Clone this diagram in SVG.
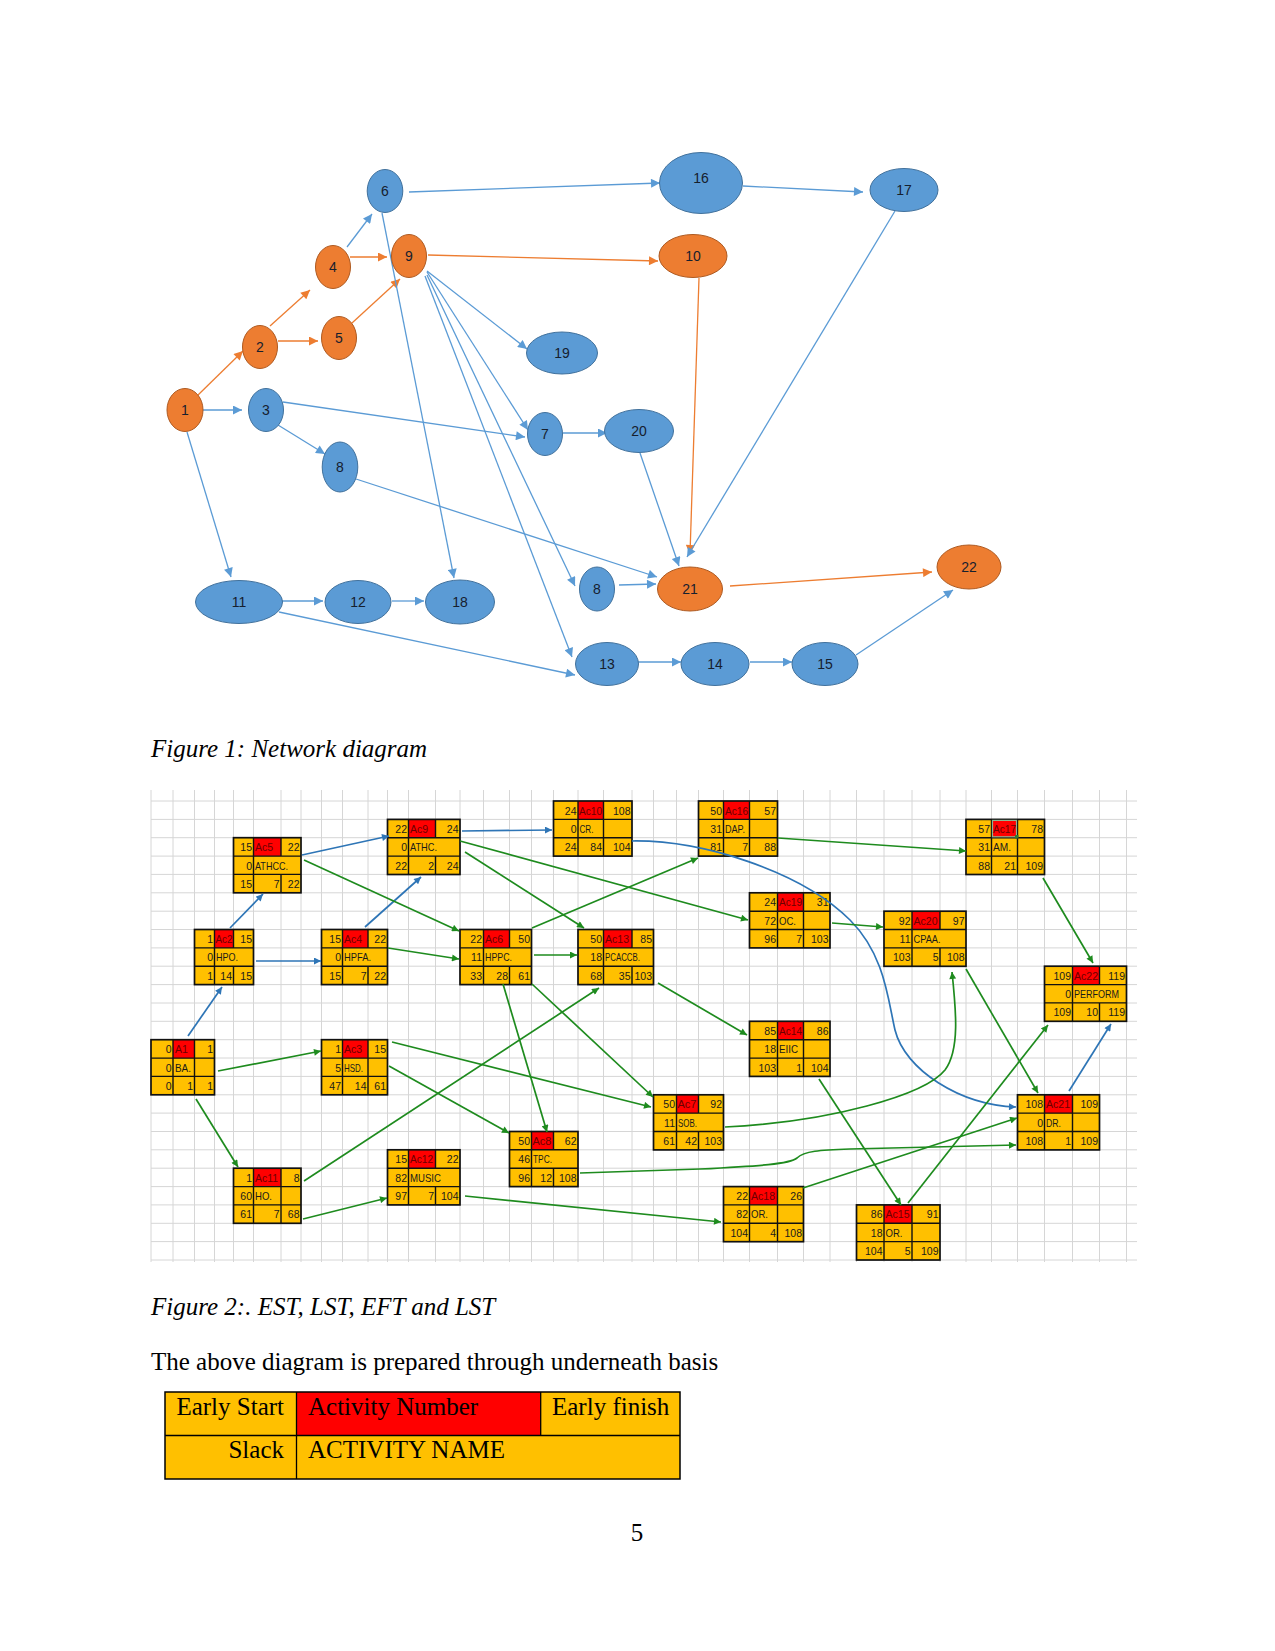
<svg xmlns="http://www.w3.org/2000/svg" width="1275" height="1651" viewBox="0 0 1275 1651">
<style>
.cap{font-family:"Liberation Serif","Times New Roman",serif;font-size:25px;fill:#000}
.it{font-style:italic}
.nb{fill:#5B9BD5;stroke:#41719C;stroke-width:1}
.no{fill:#ED7D31;stroke:#AE5A21;stroke-width:1}
.nl{font-family:"Liberation Sans",Arial,sans-serif;font-size:14px;fill:#16202e;text-anchor:middle}
.eb{stroke:#5B9BD5;stroke-width:1.3;fill:none}
.eo{stroke:#ED7D31;stroke-width:1.3;fill:none}
.grid{stroke:#D6D6D6;stroke-width:1;fill:none}
.cell{fill:#FFC000}
.red{fill:#FF0000}
.bl{stroke:#111;stroke-width:1.4;fill:none}
.fr{fill:none;stroke:#111;stroke-width:1.7}
.bx text{font-family:"Liberation Sans",Arial,sans-serif;font-size:10.5px;fill:#1a1a1a}
.bx .e{text-anchor:end}
.bx .ac{fill:#6b0000}
.cb{stroke:#2E75B6;stroke-width:1.7;fill:none}
.cg{stroke:#1E8B1E;stroke-width:1.7;fill:none}
</style>
<defs>
<marker id="mb" viewBox="0 0 10 10" refX="10" refY="5" markerWidth="11" markerHeight="9" markerUnits="userSpaceOnUse" orient="auto"><path d="M0,0L10,5L0,10z" fill="#5B9BD5"/></marker>
<marker id="mo" viewBox="0 0 10 10" refX="10" refY="5" markerWidth="11" markerHeight="9" markerUnits="userSpaceOnUse" orient="auto"><path d="M0,0L10,5L0,10z" fill="#ED7D31"/></marker>
<marker id="fb" viewBox="0 0 10 10" refX="10" refY="5" markerWidth="8" markerHeight="7" markerUnits="userSpaceOnUse" orient="auto"><path d="M0,0L10,5L0,10z" fill="#2E75B6"/></marker>
<marker id="fg" viewBox="0 0 10 10" refX="10" refY="5" markerWidth="8" markerHeight="7" markerUnits="userSpaceOnUse" orient="auto"><path d="M0,0L10,5L0,10z" fill="#1E8B1E"/></marker>
</defs>
<rect x="0" y="0" width="1275" height="1651" fill="#fff"/>

<!-- Figure 1 connectors -->
<g id="fig1-connectors">
<line class="eo" x1="197" y1="396" x2="243" y2="351" marker-end="url(#mo)"/>
<line class="eo" x1="270" y1="326" x2="310" y2="290" marker-end="url(#mo)"/>
<line class="eo" x1="278" y1="341" x2="318" y2="341" marker-end="url(#mo)"/>
<line class="eo" x1="350" y1="257" x2="387" y2="257" marker-end="url(#mo)"/>
<line class="eo" x1="352" y1="323" x2="400" y2="279" marker-end="url(#mo)"/>
<line class="eo" x1="428" y1="255" x2="658" y2="261" marker-end="url(#mo)"/>
<line class="eo" x1="699" y1="278" x2="690" y2="554" marker-end="url(#mo)"/>
<line class="eo" x1="730" y1="586" x2="932" y2="572" marker-end="url(#mo)"/>
<line class="eb" x1="202" y1="410" x2="242" y2="410" marker-end="url(#mb)"/>
<line class="eb" x1="347" y1="247" x2="372" y2="214" marker-end="url(#mb)"/>
<line class="eb" x1="409" y1="192" x2="660" y2="183" marker-end="url(#mb)"/>
<line class="eb" x1="743" y1="186" x2="863" y2="192" marker-end="url(#mb)"/>
<line class="eb" x1="427" y1="271" x2="527" y2="349" marker-end="url(#mb)"/>
<line class="eb" x1="427" y1="272" x2="528" y2="430" marker-end="url(#mb)"/>
<line class="eb" x1="283" y1="402" x2="525" y2="437" marker-end="url(#mb)"/>
<line class="eb" x1="278" y1="425" x2="325" y2="454" marker-end="url(#mb)"/>
<line class="eb" x1="563" y1="433" x2="607" y2="433" marker-end="url(#mb)"/>
<line class="eb" x1="382" y1="213" x2="454" y2="578" marker-end="url(#mb)"/>
<line class="eb" x1="427" y1="275" x2="575" y2="586" marker-end="url(#mb)"/>
<line class="eb" x1="425" y1="276" x2="572" y2="657" marker-end="url(#mb)"/>
<line class="eb" x1="640" y1="453" x2="679" y2="566" marker-end="url(#mb)"/>
<line class="eb" x1="895" y1="211" x2="687" y2="557" marker-end="url(#mb)"/>
<line class="eb" x1="356" y1="479" x2="657" y2="577" marker-end="url(#mb)"/>
<line class="eb" x1="619" y1="585" x2="656" y2="584" marker-end="url(#mb)"/>
<line class="eb" x1="187" y1="432" x2="231" y2="577" marker-end="url(#mb)"/>
<line class="eb" x1="282" y1="601" x2="323" y2="601" marker-end="url(#mb)"/>
<line class="eb" x1="392" y1="601" x2="424" y2="601" marker-end="url(#mb)"/>
<line class="eb" x1="279" y1="612" x2="575" y2="675" marker-end="url(#mb)"/>
<line class="eb" x1="638" y1="662" x2="681" y2="662" marker-end="url(#mb)"/>
<line class="eb" x1="750" y1="662" x2="792" y2="662" marker-end="url(#mb)"/>
<line class="eb" x1="856" y1="655" x2="953" y2="590" marker-end="url(#mb)"/>
</g>

<!-- Figure 1 nodes -->
<g id="n1"><ellipse class="no" cx="185" cy="410" rx="18" ry="21.5"/><text class="nl" x="185" y="415">1</text></g>
<g id="n2"><ellipse class="no" cx="260" cy="347" rx="17.5" ry="21.5"/><text class="nl" x="260" y="352">2</text></g>
<g id="n3"><ellipse class="nb" cx="266" cy="410" rx="17.5" ry="21.5"/><text class="nl" x="266" y="415">3</text></g>
<g id="n4"><ellipse class="no" cx="333" cy="267" rx="17.5" ry="21.5"/><text class="nl" x="333" y="272">4</text></g>
<g id="n5"><ellipse class="no" cx="339" cy="338" rx="17.5" ry="21.5"/><text class="nl" x="339" y="343">5</text></g>
<g id="n6"><ellipse class="nb" cx="385" cy="191" rx="17.8" ry="21.5"/><text class="nl" x="385" y="196">6</text></g>
<g id="n9"><ellipse class="no" cx="409" cy="256" rx="17.5" ry="21.5"/><text class="nl" x="409" y="261">9</text></g>
<g id="n8a"><ellipse class="nb" cx="340" cy="467" rx="17.8" ry="25"/><text class="nl" x="340" y="472">8</text></g>
<g id="n19"><ellipse class="nb" cx="562" cy="353" rx="35.5" ry="21"/><text class="nl" x="562" y="358">19</text></g>
<g id="n7"><ellipse class="nb" cx="545" cy="434" rx="17.5" ry="21.5"/><text class="nl" x="545" y="439">7</text></g>
<g id="n20"><ellipse class="nb" cx="639" cy="431" rx="34.5" ry="21.5"/><text class="nl" x="639" y="436">20</text></g>
<g id="n16"><ellipse class="nb" cx="701" cy="183" rx="41.5" ry="30.5"/><text class="nl" x="701" y="183">16</text></g>
<g id="n17"><ellipse class="nb" cx="904" cy="190" rx="34" ry="21.5"/><text class="nl" x="904" y="195">17</text></g>
<g id="n10"><ellipse class="no" cx="693" cy="256" rx="34" ry="21.5"/><text class="nl" x="693" y="261">10</text></g>
<g id="n11"><ellipse class="nb" cx="239" cy="602" rx="43.5" ry="21.5"/><text class="nl" x="239" y="607">11</text></g>
<g id="n12"><ellipse class="nb" cx="358" cy="602" rx="33" ry="21.5"/><text class="nl" x="358" y="607">12</text></g>
<g id="n18"><ellipse class="nb" cx="460" cy="602" rx="34.5" ry="22"/><text class="nl" x="460" y="607">18</text></g>
<g id="n8b"><ellipse class="nb" cx="597" cy="589" rx="17.5" ry="22"/><text class="nl" x="597" y="594">8</text></g>
<g id="n21"><ellipse class="no" cx="690" cy="589" rx="32.5" ry="22"/><text class="nl" x="690" y="594">21</text></g>
<g id="n22"><ellipse class="no" cx="969" cy="567" rx="32" ry="22"/><text class="nl" x="969" y="572">22</text></g>
<g id="n13"><ellipse class="nb" cx="607" cy="664" rx="31.5" ry="21.5"/><text class="nl" x="607" y="669">13</text></g>
<g id="n14"><ellipse class="nb" cx="715" cy="664" rx="34" ry="21.5"/><text class="nl" x="715" y="669">14</text></g>
<g id="n15"><ellipse class="nb" cx="825" cy="664" rx="33" ry="21.5"/><text class="nl" x="825" y="669">15</text></g>

<text class="cap it" x="151" y="757">Figure 1: Network diagram</text>

<!-- Figure 2 grid -->
<path class="grid" d="M151 790V1262M173 790V1262M194.5 790V1262M214.5 790V1262M233.5 790V1262M253.5 790V1262M281 790V1262M301 790V1262M321.5 790V1262M342.5 790V1262M368 790V1262M387.5 790V1262M408.5 790V1262M435.5 790V1262M460 790V1262M483.5 790V1262M509.5 790V1262M531.5 790V1262M553.5 790V1262M578 790V1262M603.5 790V1262M632 790V1262M653.5 790V1262M676.5 790V1262M698.5 790V1262M723.5 790V1262M749.5 790V1262M777.5 790V1262M803.5 790V1262M830 790V1262M856.5 790V1262M884 790V1262M912 790V1262M940 790V1262M966 790V1262M991.5 790V1262M1017.5 790V1262M1044.5 790V1262M1072.5 790V1262M1099.5 790V1262M1126.5 790V1262
M151 801H1137M151 819.4H1137M151 837.7H1137M151 856.1H1137M151 874.4H1137M151 892.8H1137M151 911.2H1137M151 929.5H1137M151 947.9H1137M151 966.2H1137M151 984.6H1137M151 1003H1137M151 1021.3H1137M151 1039.7H1137M151 1058H1137M151 1076.4H1137M151 1094.8H1137M151 1113.1H1137M151 1131.5H1137M151 1149.8H1137M151 1168.2H1137M151 1186.6H1137M151 1204.9H1137M151 1223.3H1137M151 1241.6H1137M151 1260H1137"/>

<!-- Figure 2 boxes -->
<g id="A1" class="bx">
<rect class="cell" x="151" y="1039.7" width="63.5" height="55.1"/><rect class="red" x="173" y="1039.7" width="21.5" height="18.4"/>
<path class="bl" d="M151 1058.1H214.5M151 1076.4H214.5M173 1039.7V1094.8M194.5 1039.7V1094.8"/>
<rect class="fr" x="151" y="1039.7" width="63.5" height="55.1"/>
<text class="e" x="171.5" y="1053.2">0</text><text class="ac" x="175" y="1053.2">A1</text><text class="e" x="213" y="1053.2">1</text>
<text class="e" x="171.5" y="1071.6">0</text><text x="175" y="1071.6" textLength="16" lengthAdjust="spacingAndGlyphs">BA.</text>
<text class="e" x="171.5" y="1089.9">0</text><text class="e" x="193" y="1089.9">1</text><text class="e" x="213" y="1089.9">1</text>
</g>
<g id="Ac2" class="bx">
<rect class="cell" x="194.5" y="929.5" width="59" height="55.1"/><rect class="red" x="214.5" y="929.5" width="19" height="18.4"/>
<path class="bl" d="M194.5 947.9H253.5M194.5 966.2H253.5M214.5 929.5V984.6M233.5 929.5V947.9M233.5 966.2V984.6"/>
<rect class="fr" x="194.5" y="929.5" width="59" height="55.1"/>
<text class="e" x="213" y="943">1</text><text class="ac" x="215.5" y="943" textLength="17" lengthAdjust="spacingAndGlyphs">Ac2</text><text class="e" x="252" y="943">15</text>
<text class="e" x="213" y="961.4">0</text><text x="216" y="961.4" textLength="22" lengthAdjust="spacingAndGlyphs">HPO.</text>
<text class="e" x="213" y="979.7">1</text><text class="e" x="232" y="979.7">14</text><text class="e" x="252" y="979.7">15</text>
</g>
<g id="Ac3" class="bx">
<rect class="cell" x="321.5" y="1039.7" width="66" height="55.1"/><rect class="red" x="342.5" y="1039.7" width="25.5" height="18.4"/>
<path class="bl" d="M321.5 1058.1H387.5M321.5 1076.4H387.5M342.5 1039.7V1094.8M368 1039.7V1094.8"/>
<rect class="fr" x="321.5" y="1039.7" width="66" height="55.1"/>
<text class="e" x="341" y="1053.2">1</text><text class="ac" x="344" y="1053.2">Ac3</text><text class="e" x="386" y="1053.2">15</text>
<text class="e" x="341" y="1071.6">5</text><text x="344" y="1071.6" textLength="19" lengthAdjust="spacingAndGlyphs">HSD.</text>
<text class="e" x="341" y="1089.9">47</text><text class="e" x="366.5" y="1089.9">14</text><text class="e" x="386" y="1089.9">61</text>
</g>
<g id="Ac4" class="bx">
<rect class="cell" x="321.5" y="929.5" width="66" height="55.1"/><rect class="red" x="342.5" y="929.5" width="25.5" height="18.4"/>
<path class="bl" d="M321.5 947.9H387.5M321.5 966.2H387.5M342.5 929.5V984.6M368 929.5V947.9M368 966.2V984.6"/>
<rect class="fr" x="321.5" y="929.5" width="66" height="55.1"/>
<text class="e" x="341" y="943">15</text><text class="ac" x="344" y="943">Ac4</text><text class="e" x="386" y="943">22</text>
<text class="e" x="341" y="961.4">0</text><text x="344" y="961.4" textLength="27" lengthAdjust="spacingAndGlyphs">HPFA.</text>
<text class="e" x="341" y="979.7">15</text><text class="e" x="366.5" y="979.7">7</text><text class="e" x="386" y="979.7">22</text>
</g>
<g id="Ac5" class="bx">
<rect class="cell" x="233.5" y="837.7" width="67.5" height="55.1"/><rect class="red" x="253.5" y="837.7" width="27.5" height="18.4"/>
<path class="bl" d="M233.5 856.1H301M233.5 874.4H301M253.5 837.7V892.8M281 837.7V856.1M281 874.4V892.8"/>
<rect class="fr" x="233.5" y="837.7" width="67.5" height="55.1"/>
<text class="e" x="252" y="851.2">15</text><text class="ac" x="255" y="851.2">Ac5</text><text class="e" x="299.5" y="851.2">22</text>
<text class="e" x="252" y="869.6">0</text><text x="255" y="869.6" textLength="33" lengthAdjust="spacingAndGlyphs">ATHCC.</text>
<text class="e" x="252" y="887.9">15</text><text class="e" x="279.5" y="887.9">7</text><text class="e" x="299.5" y="887.9">22</text>
</g>
<g id="Ac6" class="bx">
<rect class="cell" x="460" y="929.5" width="71.5" height="55.1"/><rect class="red" x="483.5" y="929.5" width="26" height="18.4"/>
<path class="bl" d="M460 947.9H531.5M460 966.2H531.5M483.5 929.5V984.6M509.5 929.5V947.9M509.5 966.2V984.6"/>
<rect class="fr" x="460" y="929.5" width="71.5" height="55.1"/>
<text class="e" x="482" y="943">22</text><text class="ac" x="485" y="943">Ac6</text><text class="e" x="530" y="943">50</text>
<text class="e" x="482" y="961.4">11</text><text x="485" y="961.4" textLength="27" lengthAdjust="spacingAndGlyphs">HPPC.</text>
<text class="e" x="482" y="979.7">33</text><text class="e" x="508" y="979.7">28</text><text class="e" x="530" y="979.7">61</text>
</g>
<g id="Ac7" class="bx">
<rect class="cell" x="653.5" y="1094.8" width="70" height="55.1"/><rect class="red" x="676.5" y="1094.8" width="22" height="18.4"/>
<path class="bl" d="M653.5 1113.1H723.5M653.5 1131.5H723.5M676.5 1094.8V1149.9M698.5 1094.8V1113.1M698.5 1131.5V1149.9"/>
<rect class="fr" x="653.5" y="1094.8" width="70" height="55.1"/>
<text class="e" x="675" y="1108.3">50</text><text class="ac" x="677.5" y="1108.3" textLength="19" lengthAdjust="spacingAndGlyphs">Ac7</text><text class="e" x="722" y="1108.3">92</text>
<text class="e" x="675" y="1126.6">11</text><text x="678" y="1126.6" textLength="19" lengthAdjust="spacingAndGlyphs">SOB.</text>
<text class="e" x="675" y="1145">61</text><text class="e" x="697" y="1145">42</text><text class="e" x="722" y="1145">103</text>
</g>
<g id="Ac8" class="bx">
<rect class="cell" x="509.5" y="1131.5" width="68.5" height="55.1"/><rect class="red" x="531.5" y="1131.5" width="22" height="18.4"/>
<path class="bl" d="M509.5 1149.8H578M509.5 1168.2H578M531.5 1131.5V1186.6M553.5 1131.5V1149.8M553.5 1168.2V1186.6"/>
<rect class="fr" x="509.5" y="1131.5" width="68.5" height="55.1"/>
<text class="e" x="530" y="1145">50</text><text class="ac" x="532.5" y="1145" textLength="19" lengthAdjust="spacingAndGlyphs">Ac8</text><text class="e" x="576.5" y="1145">62</text>
<text class="e" x="530" y="1163.3">46</text><text x="533" y="1163.3" textLength="19" lengthAdjust="spacingAndGlyphs">TPC.</text>
<text class="e" x="530" y="1181.7">96</text><text class="e" x="552" y="1181.7">12</text><text class="e" x="576.5" y="1181.7">108</text>
</g>
<g id="Ac9" class="bx">
<rect class="cell" x="387.5" y="819.4" width="72.5" height="55.1"/><rect class="red" x="408.5" y="819.4" width="27" height="18.4"/>
<path class="bl" d="M387.5 837.7H460M387.5 856.1H460M408.5 819.4V874.5M435.5 819.4V837.7M435.5 856.1V874.5"/>
<rect class="fr" x="387.5" y="819.4" width="72.5" height="55.1"/>
<text class="e" x="407" y="832.9">22</text><text class="ac" x="410" y="832.9">Ac9</text><text class="e" x="458.5" y="832.9">24</text>
<text class="e" x="407" y="851.2">0</text><text x="410" y="851.2" textLength="27" lengthAdjust="spacingAndGlyphs">ATHC.</text>
<text class="e" x="407" y="869.6">22</text><text class="e" x="434" y="869.6">2</text><text class="e" x="458.5" y="869.6">24</text>
</g>
<g id="Ac10" class="bx">
<rect class="cell" x="553.5" y="801" width="78.5" height="55.1"/><rect class="red" x="578" y="801" width="25.5" height="18.4"/>
<path class="bl" d="M553.5 819.4H632M553.5 837.7H632M578 801V856.1M603.5 801V856.1"/>
<rect class="fr" x="553.5" y="801" width="78.5" height="55.1"/>
<text class="e" x="576.5" y="814.5">24</text><text class="ac" x="579" y="814.5" textLength="23" lengthAdjust="spacingAndGlyphs">Ac10</text><text class="e" x="630.5" y="814.5">108</text>
<text class="e" x="576.5" y="832.9">0</text><text x="579.5" y="832.9" textLength="14" lengthAdjust="spacingAndGlyphs">CR.</text>
<text class="e" x="576.5" y="851.2">24</text><text class="e" x="602" y="851.2">84</text><text class="e" x="630.5" y="851.2">104</text>
</g>
<g id="Ac11" class="bx">
<rect class="cell" x="233.5" y="1168.2" width="67.5" height="55.1"/><rect class="red" x="253.5" y="1168.2" width="27.5" height="18.4"/>
<path class="bl" d="M233.5 1186.6H301M233.5 1204.9H301M253.5 1168.2V1223.3M281 1168.2V1223.3"/>
<rect class="fr" x="233.5" y="1168.2" width="67.5" height="55.1"/>
<text class="e" x="252" y="1181.7">1</text><text class="ac" x="255" y="1181.7" textLength="23" lengthAdjust="spacingAndGlyphs">Ac11</text><text class="e" x="299.5" y="1181.7">8</text>
<text class="e" x="252" y="1200.1">60</text><text x="255" y="1200.1" textLength="17" lengthAdjust="spacingAndGlyphs">HO.</text>
<text class="e" x="252" y="1218.4">61</text><text class="e" x="279.5" y="1218.4">7</text><text class="e" x="299.5" y="1218.4">68</text>
</g>
<g id="Ac12" class="bx">
<rect class="cell" x="387.5" y="1149.8" width="72.5" height="55.1"/><rect class="red" x="408.5" y="1149.8" width="27" height="18.4"/>
<path class="bl" d="M387.5 1168.2H460M387.5 1186.6H460M408.5 1149.8V1204.9M435.5 1149.8V1168.2M435.5 1186.6V1204.9"/>
<rect class="fr" x="387.5" y="1149.8" width="72.5" height="55.1"/>
<text class="e" x="407" y="1163.3">15</text><text class="ac" x="410" y="1163.3" textLength="23" lengthAdjust="spacingAndGlyphs">Ac12</text><text class="e" x="458.5" y="1163.3">22</text>
<text class="e" x="407" y="1181.7">82</text><text x="410" y="1181.7" textLength="31" lengthAdjust="spacingAndGlyphs">MUSIC</text>
<text class="e" x="407" y="1200.1">97</text><text class="e" x="434" y="1200.1">7</text><text class="e" x="458.5" y="1200.1">104</text>
</g>
<g id="Ac13" class="bx">
<rect class="cell" x="578" y="929.5" width="75.5" height="55.1"/><rect class="red" x="603.5" y="929.5" width="28.5" height="18.4"/>
<path class="bl" d="M578 947.9H653.5M578 966.2H653.5M603.5 929.5V984.6M632 929.5V947.9M632 966.2V984.6"/>
<rect class="fr" x="578" y="929.5" width="75.5" height="55.1"/>
<text class="e" x="602" y="943">50</text><text class="ac" x="605" y="943" textLength="24" lengthAdjust="spacingAndGlyphs">Ac13</text><text class="e" x="652" y="943">85</text>
<text class="e" x="602" y="961.4">18</text><text x="605" y="961.4" textLength="35" lengthAdjust="spacingAndGlyphs">PCACCB.</text>
<text class="e" x="602" y="979.7">68</text><text class="e" x="630.5" y="979.7">35</text><text class="e" x="652" y="979.7">103</text>
</g>
<g id="Ac14" class="bx">
<rect class="cell" x="749.5" y="1021.3" width="80.5" height="55.1"/><rect class="red" x="777.5" y="1021.3" width="26" height="18.4"/>
<path class="bl" d="M749.5 1039.7H830M749.5 1058.1H830M777.5 1021.3V1076.4M803.5 1021.3V1076.4"/>
<rect class="fr" x="749.5" y="1021.3" width="80.5" height="55.1"/>
<text class="e" x="776" y="1034.8">85</text><text class="ac" x="779" y="1034.8" textLength="23" lengthAdjust="spacingAndGlyphs">Ac14</text><text class="e" x="828.5" y="1034.8">86</text>
<text class="e" x="776" y="1053.2">18</text><text x="779" y="1053.2" textLength="19" lengthAdjust="spacingAndGlyphs">EIIC</text>
<text class="e" x="776" y="1071.6">103</text><text class="e" x="802" y="1071.6">1</text><text class="e" x="828.5" y="1071.6">104</text>
</g>
<g id="Ac15" class="bx">
<rect class="cell" x="856.5" y="1204.9" width="83.5" height="55.1"/><rect class="red" x="884" y="1204.9" width="28" height="18.4"/>
<path class="bl" d="M856.5 1223.3H940M856.5 1241.6H940M884 1204.9V1260M912 1204.9V1260"/>
<rect class="fr" x="856.5" y="1204.9" width="83.5" height="55.1"/>
<text class="e" x="882.5" y="1218.4">86</text><text class="ac" x="885.5" y="1218.4" textLength="24" lengthAdjust="spacingAndGlyphs">Ac15</text><text class="e" x="938.5" y="1218.4">91</text>
<text class="e" x="882.5" y="1236.8">18</text><text x="885.5" y="1236.8" textLength="17" lengthAdjust="spacingAndGlyphs">OR.</text>
<text class="e" x="882.5" y="1255.1">104</text><text class="e" x="910.5" y="1255.1">5</text><text class="e" x="938.5" y="1255.1">109</text>
</g>
<g id="Ac16" class="bx">
<rect class="cell" x="698.5" y="801" width="79" height="55.1"/><rect class="red" x="723.5" y="801" width="26" height="18.4"/>
<path class="bl" d="M698.5 819.4H777.5M698.5 837.7H777.5M723.5 801V856.1M749.5 801V856.1"/>
<rect class="fr" x="698.5" y="801" width="79" height="55.1"/>
<text class="e" x="722" y="814.5">50</text><text class="ac" x="725" y="814.5" textLength="23" lengthAdjust="spacingAndGlyphs">Ac16</text><text class="e" x="776" y="814.5">57</text>
<text class="e" x="722" y="832.9">31</text><text x="725" y="832.9" textLength="20" lengthAdjust="spacingAndGlyphs">DAP.</text>
<text class="e" x="722" y="851.2">81</text><text class="e" x="748" y="851.2">7</text><text class="e" x="776" y="851.2">88</text>
</g>
<g id="Ac17" class="bx">
<rect class="cell" x="966" y="819.4" width="78.5" height="55.1"/><rect class="red" x="991.5" y="819.4" width="26" height="18.4"/>
<path class="bl" d="M966 837.7H1044.5M966 856.1H1044.5M991.5 819.4V874.5M1017.5 819.4V874.5"/>
<rect class="fr" x="966" y="819.4" width="78.5" height="55.1"/>
<rect x="992.5" y="820.4" width="24" height="16.4" fill="none" stroke="#8fb58f" stroke-width="1.2"/>
<rect x="1015" y="835" width="3.5" height="3.5" fill="#2f7a2f"/>
<text class="e" x="990" y="832.9">57</text><text class="ac" x="993" y="832.9" textLength="23" lengthAdjust="spacingAndGlyphs">Ac17</text><text class="e" x="1043" y="832.9">78</text>
<text class="e" x="990" y="851.2">31</text><text x="993" y="851.2" textLength="18" lengthAdjust="spacingAndGlyphs">AM.</text>
<text class="e" x="990" y="869.6">88</text><text class="e" x="1016" y="869.6">21</text><text class="e" x="1043" y="869.6">109</text>
</g>
<g id="Ac18" class="bx">
<rect class="cell" x="723.5" y="1186.6" width="80" height="55.1"/><rect class="red" x="749.5" y="1186.6" width="28" height="18.4"/>
<path class="bl" d="M723.5 1204.9H803.5M723.5 1223.3H803.5M749.5 1186.6V1241.7M777.5 1186.6V1241.7"/>
<rect class="fr" x="723.5" y="1186.6" width="80" height="55.1"/>
<text class="e" x="748" y="1200.1">22</text><text class="ac" x="751" y="1200.1" textLength="24" lengthAdjust="spacingAndGlyphs">Ac18</text><text class="e" x="802" y="1200.1">26</text>
<text class="e" x="748" y="1218.4">82</text><text x="751" y="1218.4" textLength="17" lengthAdjust="spacingAndGlyphs">OR.</text>
<text class="e" x="748" y="1236.8">104</text><text class="e" x="776" y="1236.8">4</text><text class="e" x="802" y="1236.8">108</text>
</g>
<g id="Ac19" class="bx">
<rect class="cell" x="749.5" y="892.8" width="80.5" height="55.1"/><rect class="red" x="777.5" y="892.8" width="26" height="18.4"/>
<path class="bl" d="M749.5 911.2H830M749.5 929.5H830M777.5 892.8V947.9M803.5 892.8V947.9"/>
<rect class="fr" x="749.5" y="892.8" width="80.5" height="55.1"/>
<text class="e" x="776" y="906.3">24</text><text class="ac" x="779" y="906.3" textLength="23" lengthAdjust="spacingAndGlyphs">Ac19</text><text class="e" x="828.5" y="906.3">31</text>
<text class="e" x="776" y="924.7">72</text><text x="779" y="924.7" textLength="17" lengthAdjust="spacingAndGlyphs">OC.</text>
<text class="e" x="776" y="943">96</text><text class="e" x="802" y="943">7</text><text class="e" x="828.5" y="943">103</text>
</g>
<g id="Ac20" class="bx">
<rect class="cell" x="884" y="911.2" width="82" height="55.1"/><rect class="red" x="912" y="911.2" width="28" height="18.4"/>
<path class="bl" d="M884 929.5H966M884 947.9H966M912 911.2V966.3M940 911.2V929.5M940 947.9V966.3"/>
<rect class="fr" x="884" y="911.2" width="82" height="55.1"/>
<text class="e" x="910.5" y="924.7">92</text><text class="ac" x="913.5" y="924.7" textLength="24" lengthAdjust="spacingAndGlyphs">Ac20</text><text class="e" x="964.5" y="924.7">97</text>
<text class="e" x="910.5" y="943">11</text><text x="913.5" y="943" textLength="27" lengthAdjust="spacingAndGlyphs">CPAA.</text>
<text class="e" x="910.5" y="961.4">103</text><text class="e" x="938.5" y="961.4">5</text><text class="e" x="964.5" y="961.4">108</text>
</g>
<g id="Ac21" class="bx">
<rect class="cell" x="1017.5" y="1094.8" width="82" height="55.1"/><rect class="red" x="1044.5" y="1094.8" width="28" height="18.4"/>
<path class="bl" d="M1017.5 1113.1H1099.5M1017.5 1131.5H1099.5M1044.5 1094.8V1149.9M1072.5 1094.8V1149.9"/>
<rect class="fr" x="1017.5" y="1094.8" width="82" height="55.1"/>
<text class="e" x="1043" y="1108.3">108</text><text class="ac" x="1046" y="1108.3" textLength="24" lengthAdjust="spacingAndGlyphs">Ac21</text><text class="e" x="1098" y="1108.3">109</text>
<text class="e" x="1043" y="1126.6">0</text><text x="1046" y="1126.6" textLength="15" lengthAdjust="spacingAndGlyphs">DR.</text>
<text class="e" x="1043" y="1145">108</text><text class="e" x="1071" y="1145">1</text><text class="e" x="1098" y="1145">109</text>
</g>
<g id="Ac22" class="bx">
<rect class="cell" x="1044.5" y="966.2" width="82" height="55.1"/><rect class="red" x="1072.5" y="966.2" width="27" height="18.4"/>
<path class="bl" d="M1044.5 984.6H1126.5M1044.5 1002.9H1126.5M1072.5 966.2V1021.3M1099.5 966.2V984.6M1099.5 1002.9V1021.3"/>
<rect class="fr" x="1044.5" y="966.2" width="82" height="55.1"/>
<text class="e" x="1071" y="979.7">109</text><text class="ac" x="1074" y="979.7" textLength="24" lengthAdjust="spacingAndGlyphs">Ac22</text><text class="e" x="1125" y="979.7">119</text>
<text class="e" x="1071" y="998.1">0</text><text x="1074" y="998.1" textLength="45" lengthAdjust="spacingAndGlyphs">PERFORM</text>
<text class="e" x="1071" y="1016.4">109</text><text class="e" x="1098" y="1016.4">10</text><text class="e" x="1125" y="1016.4">119</text>
</g>

<!-- Figure 2 connectors -->
<g id="fig2-connectors">
<line class="cb" x1="188" y1="1036" x2="222" y2="987" marker-end="url(#fb)"/>
<line class="cb" x1="230" y1="928" x2="263" y2="894" marker-end="url(#fb)"/>
<line class="cb" x1="256" y1="961" x2="321" y2="961" marker-end="url(#fb)"/>
<line class="cb" x1="302" y1="855" x2="389" y2="836" marker-end="url(#fb)"/>
<line class="cb" x1="365" y1="927" x2="421" y2="877" marker-end="url(#fb)"/>
<line class="cb" x1="462" y1="831" x2="552" y2="830" marker-end="url(#fb)"/>
<path class="cb" d="M632,841 C700,840 800,870 850,920 C885,955 888,1000 895,1030 C905,1070 960,1105 1016,1107" marker-end="url(#fb)"/>
<line class="cb" x1="1069" y1="1091" x2="1111" y2="1024" marker-end="url(#fb)"/>
<line class="cg" x1="218" y1="1071" x2="321" y2="1051" marker-end="url(#fg)"/>
<line class="cg" x1="196" y1="1099" x2="238" y2="1167" marker-end="url(#fg)"/>
<line class="cg" x1="303" y1="1219" x2="387" y2="1198" marker-end="url(#fg)"/>
<line class="cg" x1="304" y1="1181" x2="599" y2="988" marker-end="url(#fg)"/>
<line class="cg" x1="389" y1="1066" x2="509" y2="1133" marker-end="url(#fg)"/>
<line class="cg" x1="392" y1="1042" x2="651" y2="1107" marker-end="url(#fg)"/>
<line class="cg" x1="532" y1="984" x2="653" y2="1097" marker-end="url(#fg)"/>
<line class="cg" x1="503" y1="984" x2="547" y2="1132" marker-end="url(#fg)"/>
<line class="cg" x1="304" y1="860" x2="459" y2="931" marker-end="url(#fg)"/>
<line class="cg" x1="388" y1="948" x2="459" y2="959" marker-end="url(#fg)"/>
<line class="cg" x1="534" y1="955" x2="577" y2="955" marker-end="url(#fg)"/>
<line class="cg" x1="532" y1="928" x2="698" y2="858" marker-end="url(#fg)"/>
<line class="cg" x1="460" y1="841" x2="748" y2="920" marker-end="url(#fg)"/>
<line class="cg" x1="465" y1="852" x2="584" y2="928" marker-end="url(#fg)"/>
<line class="cg" x1="778" y1="838" x2="966" y2="851" marker-end="url(#fg)"/>
<line class="cg" x1="832" y1="923" x2="883" y2="927" marker-end="url(#fg)"/>
<line class="cg" x1="1043" y1="878" x2="1093" y2="963" marker-end="url(#fg)"/>
<line class="cg" x1="658" y1="983" x2="747" y2="1035" marker-end="url(#fg)"/>
<line class="cg" x1="966" y1="969" x2="1038" y2="1093" marker-end="url(#fg)"/>
<path class="cg" d="M725,1127 C830,1122 925,1095 945,1070 C960,1050 956,1010 952,972" marker-end="url(#fg)"/>
<path class="cg" d="M580,1173 L700,1169 C760,1166 790,1164 797,1158 C804,1151 820,1150 850,1149 L1016,1145" marker-end="url(#fg)"/>
<line class="cg" x1="465" y1="1196" x2="721" y2="1222" marker-end="url(#fg)"/>
<line class="cg" x1="803" y1="1188" x2="1017" y2="1118" marker-end="url(#fg)"/>
<line class="cg" x1="819" y1="1079" x2="901" y2="1205" marker-end="url(#fg)"/>
<line class="cg" x1="908" y1="1203" x2="1048" y2="1025" marker-end="url(#fg)"/>
</g>

<text class="cap it" x="151" y="1315">Figure 2:. EST, LST, EFT and LST</text>
<text class="cap" x="151" y="1370">The above diagram is prepared through underneath basis</text>

<g id="legend">
<rect x="165" y="1392" width="515" height="87" fill="#FFC000"/>
<rect x="296.5" y="1392" width="244.2" height="43.5" fill="#FF0000"/>
<path d="M165 1435.5H680M296.5 1392V1479M540.7 1392V1435.5" stroke="#000" stroke-width="1.3" fill="none"/>
<rect x="165" y="1392" width="515" height="87" fill="none" stroke="#000" stroke-width="1.5"/>
<text class="cap" x="284" y="1415" text-anchor="end">Early Start</text>
<text class="cap" x="308" y="1415">Activity Number</text>
<text class="cap" x="552" y="1415">Early finish</text>
<text class="cap" x="284" y="1458" text-anchor="end">Slack</text>
<text class="cap" x="308" y="1458">ACTIVITY NAME</text>
</g>

<text class="cap" x="637" y="1541" text-anchor="middle">5</text>
</svg>
